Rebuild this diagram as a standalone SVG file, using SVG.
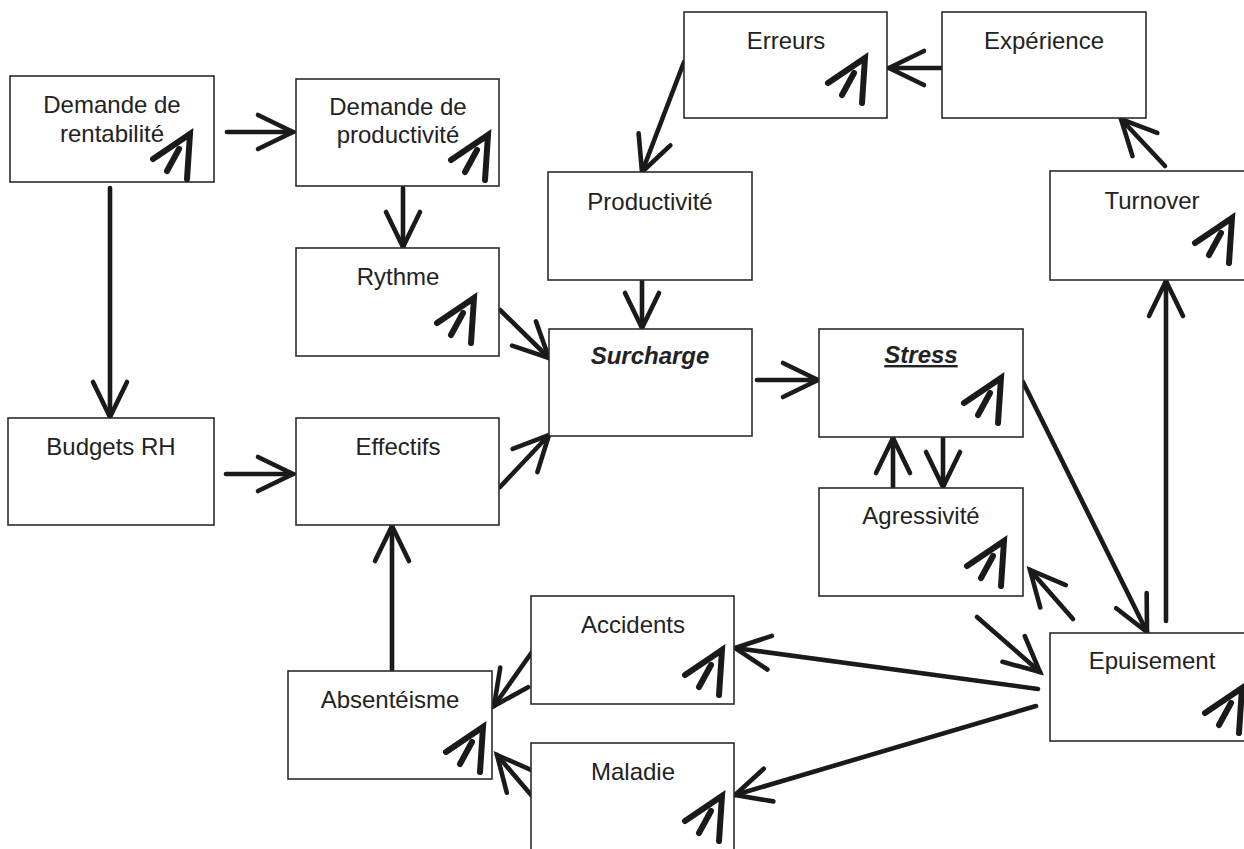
<svg xmlns="http://www.w3.org/2000/svg" width="1244" height="849" viewBox="0 0 1244 849">
<style>
.box{fill:#fff;stroke:#2b2b2b;stroke-width:1.6}
.t{font-family:"Liberation Sans",Arial,sans-serif;font-size:24px;fill:#222;text-anchor:middle}
.bi{font-weight:bold;font-style:italic}
.u{text-decoration:underline}
.c{fill:none;stroke:#1a1a1a;stroke-width:4.6;stroke-linecap:round}
.g{fill:none;stroke:#1a1a1a;stroke-width:6;stroke-linecap:round;stroke-linejoin:miter}
</style>
<defs>
<marker id="ah" markerUnits="userSpaceOnUse" viewBox="-50 -30 60 60" markerWidth="60" markerHeight="60" refX="0" refY="0" orient="auto" overflow="visible">
<path d="M-35,-17 L0,0 L-35,17" fill="none" stroke="#1a1a1a" stroke-width="4.6" stroke-linecap="round" stroke-linejoin="miter"/>
</marker>
<g id="up">
<path class="g" d="M-37,25 L0,0 L-3,45"/>
<path class="g" d="M-11,15 L-23,37"/>
</g>
</defs>
<rect width="1244" height="849" fill="#fff"/>

<g id="connectors">
<path class="c" marker-end="url(#ah)" d="M227,132 L293,132"/>
<path class="c" marker-end="url(#ah)" d="M403,188 L403,247"/>
<path class="c" marker-end="url(#ah)" d="M110,188 L110,417"/>
<path class="c" marker-end="url(#ah)" d="M226,474 L293,474"/>
<path class="c" marker-end="url(#ah)" d="M500,310 L549,358"/>
<path class="c" marker-end="url(#ah)" d="M500,487 L549,435"/>
<path class="c" marker-end="url(#ah)" d="M642,281 L642,328"/>
<path class="c" marker-end="url(#ah)" d="M757,380 L818,380"/>
<path class="c" marker-end="url(#ah)" d="M684,62 L642,172"/>
<path class="c" marker-end="url(#ah)" d="M942,68 L889,68"/>
<path class="c" marker-end="url(#ah)" d="M1165,166 L1121,119"/>
<path class="c" marker-end="url(#ah)" d="M1166,621 L1166,281"/>
<path class="c" marker-end="url(#ah)" d="M1023,382 L1147,632"/>
<path class="c" marker-end="url(#ah)" d="M943,438 L943,487"/>
<path class="c" marker-end="url(#ah)" d="M893,488 L893,438"/>
<path class="c" marker-end="url(#ah)" d="M1073,619 L1030,570"/>
<path class="c" marker-end="url(#ah)" d="M977,617 L1040,672"/>
<path class="c" marker-end="url(#ah)" d="M1038,689 L735,648"/>
<path class="c" marker-end="url(#ah)" d="M1036,706 L735,795"/>
<path class="c" marker-end="url(#ah)" d="M532,652 L494,706"/>
<path class="c" marker-end="url(#ah)" d="M532,796 L497,755"/>
<path class="c" marker-end="url(#ah)" d="M392,671 L392,526"/>
</g>

<g id="n-rentabilite">
<rect class="box" x="10" y="76" width="204" height="106"/>
<text class="t" x="112" y="113">Demande de</text>
<text class="t" x="112" y="142">rentabilité</text>
<use href="#up" x="190" y="134"/>
</g>
<g id="n-dproductivite">
<rect class="box" x="296" y="79" width="203" height="107"/>
<text class="t" x="398" y="115">Demande de</text>
<text class="t" x="398" y="143">productivité</text>
<use href="#up" x="488" y="135"/>
</g>
<g id="n-rythme">
<rect class="box" x="296" y="248" width="203" height="108"/>
<text class="t" x="398" y="285">Rythme</text>
<use href="#up" x="474" y="298"/>
</g>
<g id="n-budgets">
<rect class="box" x="8" y="418" width="206" height="107"/>
<text class="t" x="111" y="455">Budgets RH</text>
</g>
<g id="n-effectifs">
<rect class="box" x="296" y="418" width="203" height="107"/>
<text class="t" x="398" y="455">Effectifs</text>
</g>
<g id="n-productivite">
<rect class="box" x="548" y="172" width="204" height="108"/>
<text class="t" x="650" y="210">Productivité</text>
</g>
<g id="n-surcharge">
<rect class="box" x="549" y="329" width="203" height="107"/>
<text class="t bi" x="650" y="364">Surcharge</text>
</g>
<g id="n-erreurs">
<rect class="box" x="684" y="12" width="203" height="106"/>
<text class="t" x="786" y="49">Erreurs</text>
<use href="#up" x="865" y="58"/>
</g>
<g id="n-experience">
<rect class="box" x="942" y="12" width="204" height="106"/>
<text class="t" x="1044" y="49">Expérience</text>
</g>
<g id="n-turnover">
<rect class="box" x="1050" y="171" width="204" height="109"/>
<text class="t" x="1152" y="209">Turnover</text>
<use href="#up" x="1232" y="218"/>
</g>
<g id="n-stress">
<rect class="box" x="819" y="329" width="204" height="108"/>
<text class="t bi u" x="921" y="363">Stress</text>
<use href="#up" x="1001" y="378"/>
</g>
<g id="n-agressivite">
<rect class="box" x="819" y="488" width="204" height="108"/>
<text class="t" x="921" y="524">Agressivité</text>
<use href="#up" x="1004" y="541"/>
</g>
<g id="n-epuisement">
<rect class="box" x="1050" y="633" width="204" height="108"/>
<text class="t" x="1152" y="669">Epuisement</text>
<use href="#up" x="1242" y="688"/>
</g>
<g id="n-accidents">
<rect class="box" x="531" y="596" width="203" height="108"/>
<text class="t" x="633" y="633">Accidents</text>
<use href="#up" x="722" y="650"/>
</g>
<g id="n-absenteisme">
<rect class="box" x="288" y="671" width="204" height="108"/>
<text class="t" x="390" y="708">Absentéisme</text>
<use href="#up" x="483" y="727"/>
</g>
<g id="n-maladie">
<rect class="box" x="531" y="743" width="203" height="110"/>
<text class="t" x="633" y="780">Maladie</text>
<use href="#up" x="722" y="796"/>
</g>
</svg>
